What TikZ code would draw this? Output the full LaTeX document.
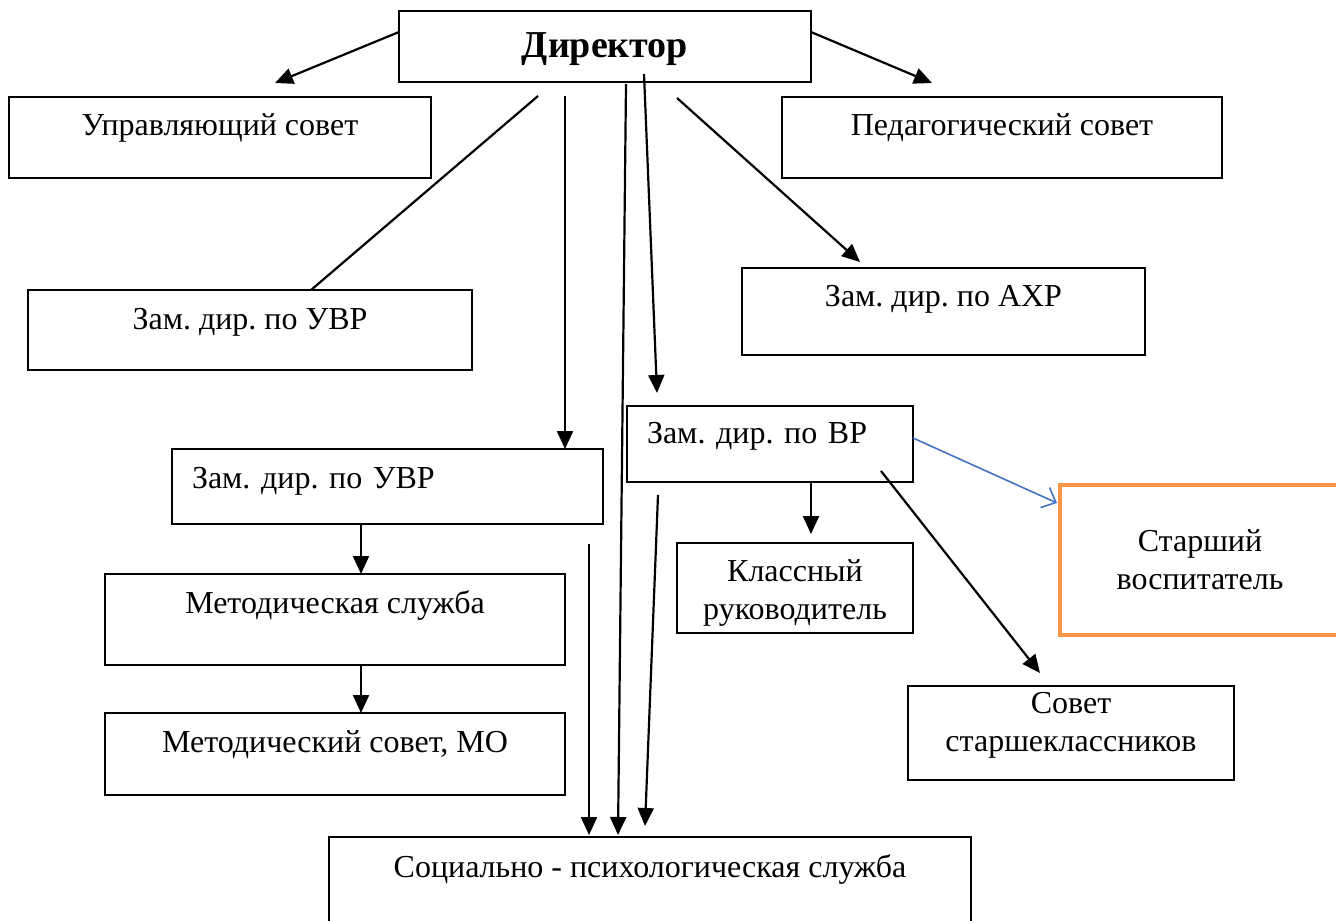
\documentclass[tikz,border=0pt]{standalone}
\usepackage{fontspec}
\setmainfont{Liberation Serif}
\usetikzlibrary{arrows.meta}
\definecolor{custom-blue}{RGB}{68, 114, 196}
\definecolor{custom-orange}{RGB}{247, 150, 70}

\begin{document}
\frenchspacing
\begin{tikzpicture}[x=1pt, y=-1pt,
        box/.style={draw, rectangle, line width=1.6pt, inner sep=0pt, outer sep=0pt,
            font=\fontsize{32}{38}\selectfont, align=center},
        link/.style={line width=2.2pt, -{Triangle[length=18pt, width=16pt]}}]
    \useasboundingbox (0, 0) rectangle (1336, 921);
    % boxes
    \node[box, minimum width=412pt, minimum height=71pt, text height=30.5pt, text depth=9.5pt,
        font=\fontsize{38}{44}\selectfont\bfseries] (dir) at (605, 46.5) {Директор};
    \node[box, minimum width=422pt, minimum height=81pt, text height=18pt, text depth=23pt] (upr) at (220, 137.5) {Управляющий совет};
    \node[box, minimum width=440pt, minimum height=81pt, text height=18pt, text depth=23pt] (ped) at (1002, 137.5) {Педагогический совет};
    \node[box, minimum width=444pt, minimum height=80pt, text height=19.5pt, text depth=20.5pt] (uvrA) at (250, 330) {Зам. дир. по УВР};
    \node[box, minimum width=403pt, minimum height=87pt, text height=14.5pt, text depth=25.5pt] (axr) at (943.5, 311.5) {Зам. дир. по АХР};
    \node[box, minimum width=286pt, minimum height=76pt, text height=19pt, text depth=21pt,
        text width=246pt, align=left] (vr) at (770, 444) {Зам. дир. по ВР};
    \node[box, minimum width=431pt, minimum height=75pt, text height=21.5pt, text depth=18.5pt,
        text width=391pt, align=left] (uvrB) at (387.5, 486.5) {Зам. дир. по УВР};
    \node[box, minimum width=460pt, minimum height=91pt, text height=13.5pt, text depth=26.5pt] (metsl) at (335, 619.5) {Методическая служба};
    \node[box, minimum width=460pt, minimum height=82pt, text height=18pt, text depth=22pt] (metsov) at (335, 754) {Методический совет, МО};
    \node[box, minimum width=236pt, minimum height=90pt, text width=226pt, text height=28pt, text depth=42pt] (klass) at (795, 588) {Классный\\руководитель};
    \node[box, draw=custom-orange, line width=4pt, minimum width=280pt, minimum height=150pt] (starsh) at (1200, 560) {Старший\\воспитатель};
    \node[box, minimum width=326pt, minimum height=94pt, text width=316pt, text height=20pt, text depth=60pt] (sovet) at (1071, 733) {Совет\\старшеклассников};
    \node[box, minimum width=642pt, minimum height=103pt, text height=8.5pt, text depth=31.5pt] (soc) at (650, 888.5) {Социально - психологическая служба};
    % connectors
    \draw[link] ([yshift=14.5pt]dir.west) -- ([xshift=55pt, yshift=14pt]upr.north);
    \draw[link] ([yshift=14.5pt]dir.east) -- ([xshift=-70pt, yshift=14pt]ped.north);
    \draw[line width=2.2pt] ([xshift=-67pt, yshift=-14pt]dir.south) -- ([xshift=61pt]uvrA.north);
    \draw[link] ([xshift=-40pt, yshift=-14pt]dir.south) -- ([xshift=177.5pt]uvrB.north);
    \draw[link] ([xshift=21pt, yshift=-2pt]dir.south) -- ([xshift=-32pt, yshift=2pt]soc.north);
    \draw[link] ([xshift=39pt, yshift=8pt]dir.south) -- ([xshift=-113pt, yshift=13pt]vr.north);
    \draw[link] ([xshift=72pt, yshift=-16pt]dir.south) -- ([xshift=-83.5pt, yshift=6pt]axr.north);
    \draw[line width=1.6pt, custom-blue, -{Straight Barb[length=12pt, width=22pt]}]
        ([yshift=6pt]vr.east) -- ([xshift=-3pt, yshift=57pt]starsh.west);
    \draw[link] ([xshift=111pt, yshift=11pt]vr.south) -- ([xshift=-31pt, yshift=13pt]sovet.north);
    \draw[link] ([xshift=41pt]vr.south) -- ([xshift=16pt, yshift=9pt]klass.north);
    \draw[link] ([xshift=-26.5pt]uvrB.south) -- ([xshift=26pt]metsl.north);
    \draw[link] ([xshift=26pt]metsl.south) -- ([xshift=26pt]metsov.north);
    \draw[link] ([xshift=-14pt, yshift=-20pt]uvrB.south east) -- ([xshift=-61pt, yshift=2pt]soc.north);
    \draw[link] ([xshift=-112pt, yshift=-13pt]vr.south) -- ([xshift=-5pt, yshift=11pt]soc.north);
\end{tikzpicture}
\end{document}
